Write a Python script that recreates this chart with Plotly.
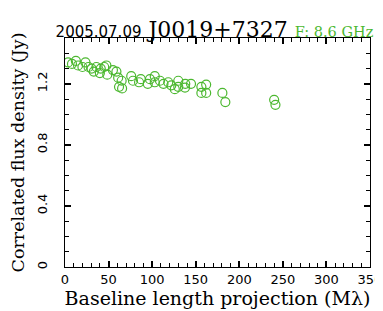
import plotly.graph_objects as go

baseline_mlambda = [3.5, 8, 12.5, 15, 20, 23.5, 27, 30.5, 33, 36, 40, 41, 45, 47.5, 48.5,
                    55, 59, 61, 62, 65, 65.5, 76, 78, 85, 87, 95, 97.5, 103, 103, 109,
                    113, 118.5, 122, 126, 130, 130, 137.7, 138, 144.6, 156.5, 162, 156.5,
                    162, 180.6, 184, 240, 241.5]
flux_jy = [1.34, 1.33, 1.35, 1.32, 1.31, 1.34, 1.31, 1.30, 1.28, 1.31, 1.27, 1.30, 1.31, 1.32, 1.26,
           1.29, 1.28, 1.24, 1.18, 1.22, 1.17, 1.25, 1.22, 1.21, 1.23, 1.20, 1.23, 1.25, 1.21, 1.22,
           1.20, 1.21, 1.19, 1.165, 1.22, 1.18, 1.175, 1.20, 1.20, 1.18, 1.195, 1.14,
           1.14, 1.14, 1.08, 1.095, 1.062]
x_ticks = [0, 50, 100, 150, 200, 250, 300, 350]
y_ticks = [0, 0.4, 0.8, 1.2]
y_tick_text = ["0", "0.4", "0.8", "1.2"]

green = "#4cb830"
fig = go.Figure()
fig.add_trace(go.Scatter(
    x=baseline_mlambda, y=flux_jy, mode="markers",
    marker=dict(symbol="circle-open", size=9, color=green, line=dict(width=1.2, color=green)),
    showlegend=False,
))

fig.update_xaxes(
    range=[0, 350], tickvals=x_ticks, ticks="inside", ticklen=6, tickcolor="black", tickwidth=2,
    mirror="ticks",
    minor=dict(dtick=10, ticks="inside", ticklen=4, tickcolor="black", tickwidth=1),
    showline=True, linecolor="black", showgrid=False, zeroline=False, automargin=False,
    tickfont=dict(family="DejaVu Sans", size=13, color="black"),
    title=dict(text="Baseline length projection (M\u03bb)", standoff=3,
               font=dict(family="DejaVu Serif", size=19, color="black")),
)
fig.update_yaxes(
    range=[0, 1.5], tickvals=y_ticks, ticktext=y_tick_text,
    ticks="inside", ticklen=6, tickcolor="black", tickwidth=2,
    mirror="ticks",
    minor=dict(dtick=0.1, ticks="inside", ticklen=4, tickcolor="black", tickwidth=1),
    showline=True, linecolor="black", showgrid=False, zeroline=False, automargin=False,
    tickangle=-90, ticklabelstandoff=12,
    tickfont=dict(family="DejaVu Sans", size=13, color="black"),
    title=dict(text="Correlated flux density (Jy)", standoff=11,
               font=dict(family="DejaVu Serif", size=17.5, color="black")),
)
title_text = ("<span style='font-family:DejaVu Sans;font-size:15px'>2005.07.09</span> "
              "J0019+7327 "
              "<span style='font-size:14.5px;color:#4cb830'>F: 8.6 GHz</span>")
fig.update_layout(
    title=dict(text=title_text, xref="paper", x=0.49, xanchor="center",
               yref="paper", y=1.0, yanchor="bottom", pad=dict(b=1),
               font=dict(family="DejaVu Serif", size=22, color="black")),
    width=383, height=311, margin=dict(l=57, r=21, t=30, b=52),
    plot_bgcolor="white", paper_bgcolor="white",
)
fig.write_html("out.html")
